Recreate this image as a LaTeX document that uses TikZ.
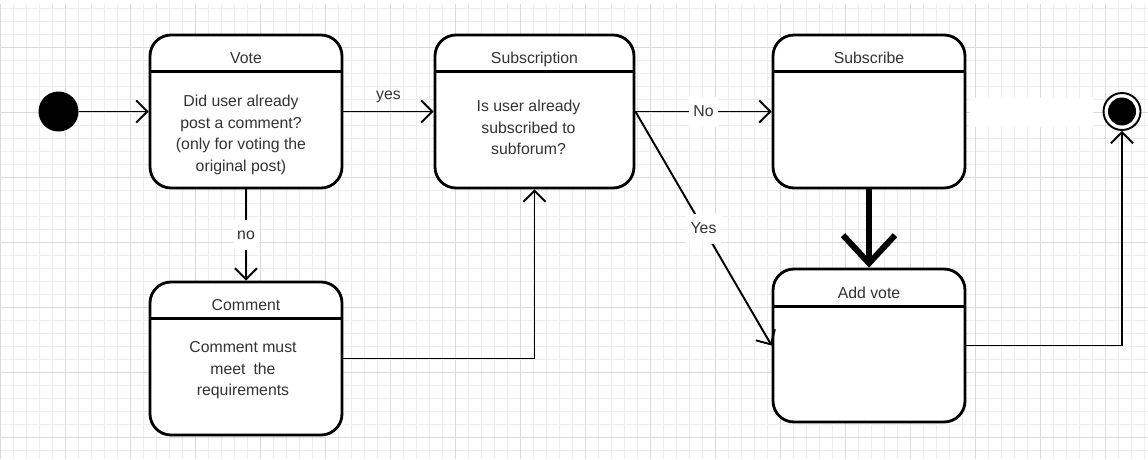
\documentclass[tikz,border=0pt]{standalone}
\usepackage{fontspec}
\setmainfont{Liberation Sans}
\usetikzlibrary{arrows.meta}

\definecolor{gridminor}{HTML}{EDEDED}
\definecolor{gridmajor}{HTML}{DADADA}
\definecolor{labeltext}{HTML}{333333}

\tikzset{
  state/.style = {rectangle, draw, line width=1.6pt, rounded corners=0.42cm, fill=white,
                  minimum width=3.84cm, minimum height=3.06cm, inner sep=0pt},
  title/.style = {anchor=base, text=labeltext, inner sep=0pt, font=\fontsize{9}{11}\selectfont},
  body/.style  = {anchor=north, align=center, text=labeltext, inner sep=0pt,
                  font=\fontsize{9}{12.3}\selectfont},
  flow/.style  = {line width=1.1pt, -{Straight Barb[length=0.22cm, width=0.44cm]}},
  guard/.style = {fill=white, text=labeltext, inner xsep=2.5pt, inner ysep=0pt,
                  minimum height=0.6cm, font=\fontsize{9}{11}\selectfont},
}

\begin{document}
\begin{tikzpicture}
\useasboundingbox (0,0) rectangle (22.96,-9.18);
\fill[white] (0,0) rectangle (22.96,-9.18);

% paper grid
\begin{scope}[yshift=-0.94cm]
\draw[gridminor, line width=0.5pt, step=0.26cm] (0,0.86) grid (22.96,-8.24);
\draw[gridmajor, line width=0.5pt, step=1.3cm] (0,0.86) grid (22.96,-8.24);
\end{scope}
\fill[white] (19.4,-1.95) rectangle (21.86,-2.54);

\node[circle, fill=black, minimum size=0.8cm, inner sep=0pt] (start) at (1.17,-2.23) {};
\node[circle, draw, line width=1.1pt, fill=white, minimum size=0.74cm, inner sep=0pt] (end) at (22.44,-2.23) {};
\fill (end.center) circle (0.28cm);

\node[state] (vote) at (4.92,-2.23) {};
\node[title] at ([yshift=-0.6cm]vote.north) {Vote};
\draw[line width=1.6pt] ([yshift=-0.76cm]vote.north west) -- ([yshift=-0.76cm]vote.north east);
\node[body] at ([xshift=-0.1cm, yshift=-1.22cm]vote.north) {Did user already\\post a comment?\\(only for voting the\\original post)};

\node[state, minimum width=3.98cm] (subscription) at (10.69,-2.23) {};
\node[title] at ([yshift=-0.6cm]subscription.north) {Subscription};
\draw[line width=1.6pt] ([yshift=-0.76cm]subscription.north west) -- ([yshift=-0.76cm]subscription.north east);
\node[body] at ([xshift=-0.12cm, yshift=-1.32cm]subscription.north) {Is user already\\subscribed to\\subforum?};

\node[state] (subscribe) at (17.38,-2.23) {};
\node[title] at ([yshift=-0.6cm]subscribe.north) {Subscribe};
\draw[line width=1.6pt] ([yshift=-0.76cm]subscribe.north west) -- ([yshift=-0.76cm]subscribe.north east);

\node[state] (comment) at (4.92,-7.17) {};
\node[title] at ([yshift=-0.6cm]comment.north) {Comment};
\draw[line width=1.6pt] ([yshift=-0.76cm]comment.north west) -- ([yshift=-0.76cm]comment.north east);
\node[body] at ([xshift=-0.06cm, yshift=-1.21cm]comment.north) {Comment must\\meet\enspace the\\requirements};

\node[state] (addvote) at (17.38,-6.91) {};
\node[title] at ([yshift=-0.62cm]addvote.north) {Add vote};
\draw[line width=1.6pt] ([yshift=-0.78cm]addvote.north west) -- ([yshift=-0.78cm]addvote.north east);

\draw[flow] (start) -- (vote);
\draw[flow] (vote) -- node[above=1pt, text=labeltext, font=\fontsize{9}{11}\selectfont] {yes} (subscription);
\draw[flow] (vote) -- node[guard] {no} (comment);
\draw[flow] (comment.east) -| (subscription.south);
\draw[flow] (subscription) -- node[guard] {No} (subscribe);
\draw[flow] (subscription.east) -- node[guard] {Yes} (addvote.west);
\draw[line width=3.4pt, -{Straight Barb[length=0.56cm, width=1.04cm]}] (subscribe) -- (addvote);
\draw[flow] (addvote.east) -| (end.south);

\end{tikzpicture}
\end{document}
